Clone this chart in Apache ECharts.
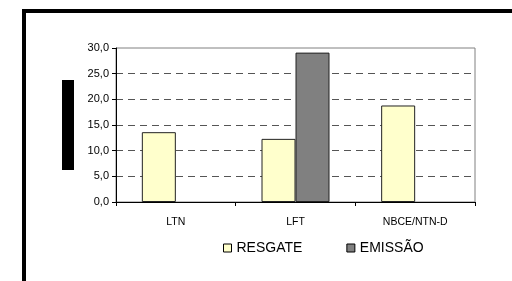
<!DOCTYPE html>
<html>
<head>
<meta charset="utf-8">
<script src="https://cdn.jsdelivr.net/npm/echarts@6/dist/echarts.min.js"></script>
<style>
  html, body { margin: 0; padding: 0; background: #fff; }
  #chart { width: 512px; height: 281px; }
</style>
</head>
<body>
<div id="chart"></div>
<script>
var categories = ['LTN', 'LFT', 'NBCE/NTN-D'];
var resgate = [13.6, 12.3, 18.8];
var emissao = [null, 29.1, null];
var seriesNames = ['RESGATE', 'EMISSÃO'];

var chart = echarts.init(document.getElementById('chart'));

var fontName = '"Liberation Sans", Arial, sans-serif';

var option = {
  animation: false,
  backgroundColor: '#fff',
  textStyle: { fontFamily: fontName },
  // frame around the chart and the dark box left of the value axis
  graphic: [
    {
      type: 'rect',
      shape: { x: 24, y: 11, width: 600, height: 400 },
      style: { fill: 'none', stroke: '#000', lineWidth: 4 }
    },
    {
      type: 'rect',
      shape: { x: 62, y: 80, width: 12, height: 90 },
      style: { fill: '#000' }
    }
  ],
  grid: {
    left: 116,
    right: 37,
    top: 48,
    bottom: 79,
    show: true,
    borderColor: '#808080',
    borderWidth: 1,
    backgroundColor: '#fff'
  },
  legend: {
    data: seriesNames,
    left: 218,
    top: 236,
    icon: 'rect',
    itemWidth: 8,
    itemHeight: 8,
    itemGap: 44,
    textStyle: { fontSize: 14, color: '#000', fontFamily: fontName },
    itemStyle: { borderColor: '#000', borderWidth: 1 }
  },
  xAxis: {
    type: 'category',
    data: categories,
    axisLine: { lineStyle: { color: '#000', width: 1 } },
    axisTick: { show: true, length: 4, lineStyle: { color: '#000' } },
    axisLabel: { color: '#000', fontSize: 10.5, margin: 15, fontFamily: fontName },
    splitLine: { show: false }
  },
  yAxis: {
    type: 'value',
    min: 0,
    max: 30,
    interval: 5,
    axisLine: { show: true, lineStyle: { color: '#000', width: 1 } },
    axisTick: { show: true, length: 4, lineStyle: { color: '#000' } },
    axisLabel: {
      color: '#000',
      fontSize: 11,
      margin: 7,
      fontFamily: fontName,
      formatter: function (v) { return v.toFixed(1).replace('.', ','); }
    },
    splitLine: {
      show: true,
      showMinLine: false,
      showMaxLine: false,
      lineStyle: { color: '#555', type: [7, 5], width: 1 }
    }
  },
  series: [
    {
      name: seriesNames[0],
      type: 'bar',
      data: resgate,
      barWidth: 34,
      barGap: '0%',
      itemStyle: { color: '#FFFFCC', borderColor: '#222', borderWidth: 1 }
    },
    {
      name: seriesNames[1],
      type: 'bar',
      data: emissao,
      barWidth: 34,
      barGap: '0%',
      itemStyle: { color: '#808080', borderColor: '#222', borderWidth: 1 }
    }
  ]
};

chart.setOption(option);
</script>
</body>
</html>
